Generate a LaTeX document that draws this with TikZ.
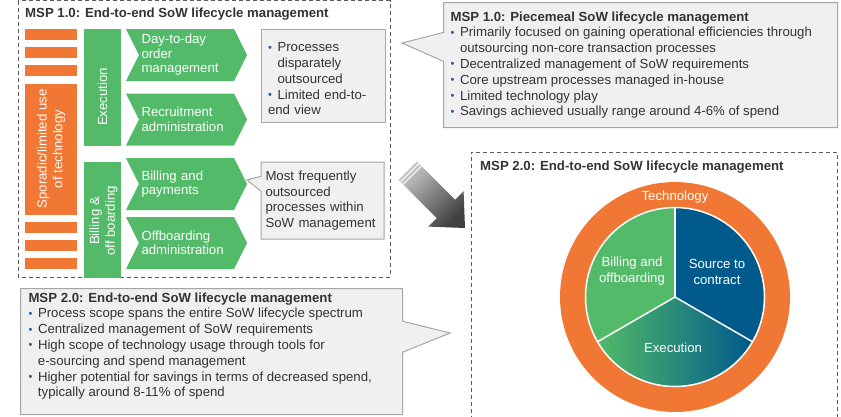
\documentclass[tikz,border=0pt]{standalone}
\usepackage{fontspec}
\setmainfont{Liberation Sans}
\usetikzlibrary{shapes.symbols, shapes.callouts}
\definecolor{sowgreen}{RGB}{82,186,104}
\definecolor{sowblue}{RGB}{0,90,140}
\definecolor{soworange}{RGB}{240,120,52}
\definecolor{notefill}{RGB}{240,240,240}
\definecolor{noteline}{RGB}{166,166,166}
\definecolor{frameline}{RGB}{90,90,90}
\definecolor{inktext}{RGB}{51,51,51}
\definecolor{dotblue}{RGB}{31,92,153}
\newcommand{\bodyfont}{\fontsize{13.2}{15.8}\selectfont\parskip=0pt\relax}
\newcommand{\bitem}{\par\hangindent=9.5pt\hangafter=1\noindent
  \makebox[9.5pt][l]{\textcolor{dotblue}{\fontsize{11}{11}\selectfont\raisebox{0.5pt}{•}}}}
\tikzset{
  mspframe/.style = {draw=frameline, line width=1pt, dash pattern=on 4pt off 3pt},
  headline/.style = {font=\bodyfont\bfseries, text=inktext, inner sep=0pt},
  techbar/.style  = {fill=soworange, inner sep=0pt},
  phasebar/.style = {fill=sowgreen, inner sep=0pt},
  barlabel/.style = {rotate=90, text=white, font=\bodyfont, align=center,
                     inner sep=0pt},
  stepchev/.style = {signal, signal from=west, signal to=east,
                     signal pointer angle=127, fill=sowgreen, text=white,
                     minimum width=121pt, minimum height=52pt,
                     text width=90pt, align=left, inner xsep=0pt,
                     font=\fontsize{13.2}{14.5}\selectfont},
  notebox/.style  = {fill=notefill, draw=noteline, line width=1pt,
                     text=inktext, font=\bodyfont},
  notecall/.style = {notebox, rectangle callout},
  pielabel/.style = {text=white, font=\bodyfont, align=center, inner sep=0pt}
}

\begin{document}
\begin{tikzpicture}[x=1pt, y=-1pt]
  \useasboundingbox (0,0) rectangle (841,416);

  % MSP 1.0 panel
  \draw[mspframe] (18,0.8) rectangle (390,277);
  \node[headline, anchor=west] (msp1title) at (25,14)
        {MSP 1.0: End-to-end SoW lifecycle management};

  \foreach \y in {29,47,65,222,240,258}
    \fill[soworange] (25,\y) rectangle (77,\y+11);
  \node[techbar, minimum width=52pt, minimum height=131pt] (techbar) at (51,149.5) {};
  \node[barlabel] (techtxt) at (51,149) {Sporadic/limited use\\of technology};

  \node[phasebar, minimum width=37pt, minimum height=117pt] (exec) at (102.5,87.5) {};
  \node[barlabel] (exectxt) at (102.5,97) {Execution};
  \node[phasebar, minimum width=37pt, minimum height=116pt] (billoff) at (102.5,220) {};
  \node[barlabel] (billofftxt) at (103.5,221) {Billing \&\\off boarding};

  \node[stepchev] (order)   at (186.5,55)    {Day-to-day\\order\\management};
  \node[stepchev] (recruit) at (186.5,119.5) {Recruitment\\administration};
  \node[stepchev] (billing) at (186.5,184)   {Billing and\\payments};
  \node[stepchev] (offb)    at (186.5,243)   {Offboarding\\administration};

  \node[notebox, minimum width=124pt, minimum height=93pt, text width=110pt,
        align=left, inner xsep=0pt] (gapnote) at (323,75.5)
        {\bitem Processes\newline disparately\newline outsourced
         \bitem Limited end-to-\newline end view};
  \node[notecall, minimum width=123pt, minimum height=77pt, text width=114pt,
        align=left, inner xsep=0pt, callout absolute pointer={(247,180)},
        callout pointer width=15pt] (freqnote) at (322.5,200.5)
        {Most frequently\\outsourced\\processes within\\SoW management};

  % MSP 1.0 summary
  \node[notecall, anchor=north west, inner xsep=7pt, inner ysep=9pt,
        callout absolute pointer={(402,43)}, callout pointer width=29pt]
        (msp1note) at (443,2)
        {\parbox[c][107pt][t]{380pt}{\raggedright\bodyfont
         {\bfseries MSP 1.0: Piecemeal SoW lifecycle management}
         \bitem Primarily focused on gaining operational efficiencies through\newline
                outsourcing non-core transaction processes
         \bitem Decentralized management of SoW requirements
         \bitem Core upstream processes managed in-house
         \bitem Limited technology play
         \bitem Savings achieved usually range around 4-6\% of spend}};

  % transition arrow
  \shade[top color=gray!45, bottom color=black!75, shading angle=45]
    (416.9,161.5) -- (455.1,199.7) -- (463.6,191.2) -- (465,228)
    -- (428.2,226.6) -- (436.7,218.1) -- (398.5,179.9) -- cycle;
  \draw[white, line width=0.9pt] (419.0,163.6) -- (400.6,182.0);
  \draw[white, line width=0.9pt] (421.5,166.1) -- (403.1,184.5);

  % MSP 2.0 summary
  \node[notecall, anchor=north west, inner xsep=8pt, inner ysep=4pt,
        callout absolute pointer={(450,333)}, callout pointer width=31pt]
        (msp2note) at (20,288)
        {\parbox[c][118pt][t]{366pt}{\raggedright\bodyfont
         {\bfseries MSP 2.0: End-to-end SoW lifecycle management}
         \bitem Process scope spans the entire SoW lifecycle spectrum
         \bitem Centralized management of SoW requirements
         \bitem High scope of technology usage through tools for\newline
                e-sourcing and spend management
         \bitem Higher potential for savings in terms of decreased spend,\newline
                typically around 8-11\% of spend}};

  % MSP 2.0 panel
  \draw[mspframe] (471,420) -- (471,152) -- (837,152) -- (837,420);
  \node[headline, anchor=west] (msp2title) at (480,167)
        {MSP 2.0: End-to-end SoW lifecycle management};

  \begin{scope}[shift={(675,297)}, y=1pt]
    \fill[soworange] (0,0) circle[radius=115];
    \fill[sowgreen] (0,0) -- (90:89) arc[start angle=90, end angle=210, radius=89] -- cycle;
    \fill[sowblue] (0,0) -- (-30:89) arc[start angle=-30, end angle=90, radius=89] -- cycle;
    \shade[left color=sowgreen, right color=sowblue]
      (0,0) -- (210:89) arc[start angle=210, end angle=330, radius=89] -- cycle;
    \draw[white, line width=1.5pt] (0,0) circle[radius=89.5];
    \foreach \a in {90,210,330}
      \draw[white, line width=1.5pt] (0,0) -- (\a:89);
  \end{scope}
  \node[pielabel] (techring) at (675,197) {Technology};
  \node[pielabel] (billpie)  at (632,271) {Billing and\\offboarding};
  \node[pielabel] (sourcepie) at (717,272) {Source to\\contract};
  \node[pielabel] (execpie)  at (673,348) {Execution};
\end{tikzpicture}
\end{document}
